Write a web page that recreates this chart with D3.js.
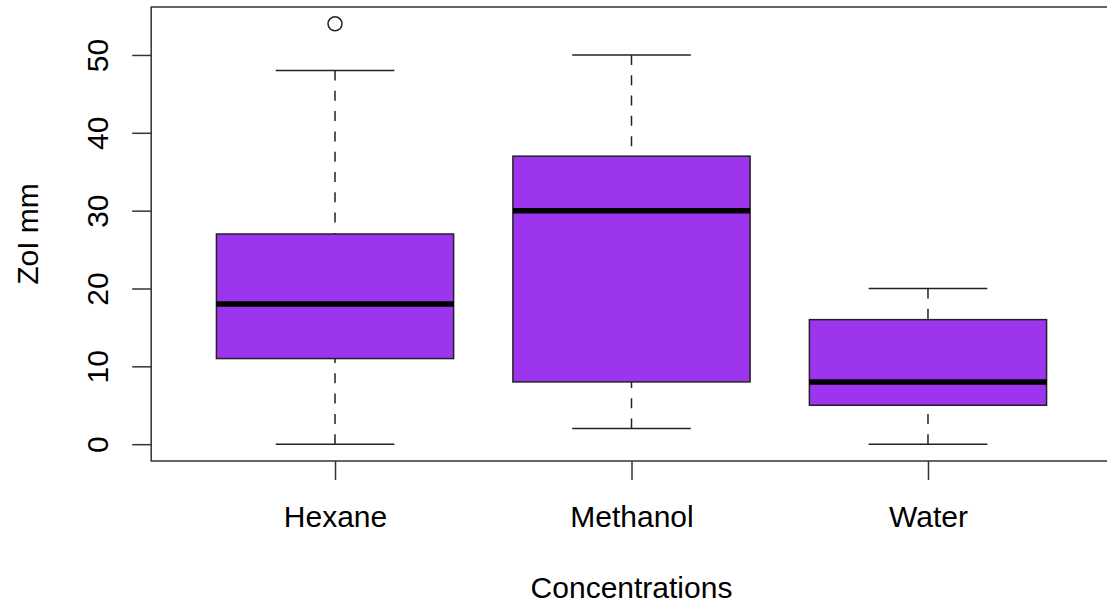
<!DOCTYPE html>
<html>
<head>
<meta charset="utf-8">
<script src="https://cdn.jsdelivr.net/npm/d3@7"></script>
<style>
  html, body { margin: 0; padding: 0; background: #fff; }
  svg { display: block; }
  text { font-family: "Liberation Sans", Arial, Helvetica, sans-serif; fill: #000; }
</style>
</head>
<body>
<svg id="chart" width="1107" height="608"></svg>
<script>
// ---- data ----
const categories = ["Hexane", "Methanol", "Water"];
const whiskerLow = [0, 2, 0];
const q1 = [11, 8, 5];
const median = [18, 30, 8];
const q3 = [27, 37, 16];
const whiskerHigh = [48, 50, 20];
const outliers = [[54], [], []];
const yTicks = [0, 10, 20, 30, 40, 50];
const xTitle = "Concentrations";
const yTitle = "ZoI mm";

// ---- layout ----
const W = 1107, H = 608;
const plotLeft = 151.2, plotRight = 1111.8, plotTop = 7, plotBottom = 461;
const fontSize = 30;
const fill = "#9D34EE";

const svg = d3.select("#chart");

const x = d3.scaleLinear().domain([0.38, 3.62]).range([plotLeft, plotRight]);
const y = d3.scaleLinear().domain([-2.16, 56.16]).range([plotBottom, plotTop]);

const boxHalf = 0.4, capHalf = 0.2;

const g = svg.append("g");

categories.forEach((c, i) => {
  const cx = x(i + 1);
  const bx0 = x(i + 1 - boxHalf), bx1 = x(i + 1 + boxHalf);
  const cx0 = x(i + 1 - capHalf), cx1 = x(i + 1 + capHalf);
  // whiskers (dashed), drawn from end toward box
  g.append("line").attr("x1", cx).attr("x2", cx)
    .attr("y1", y(whiskerHigh[i])).attr("y2", y(q3[i]))
    .attr("stroke", "#222").attr("stroke-width", 1.5).attr("stroke-dasharray", "10,10.3");
  g.append("line").attr("x1", cx).attr("x2", cx)
    .attr("y1", y(whiskerLow[i])).attr("y2", y(q1[i]))
    .attr("stroke", "#222").attr("stroke-width", 1.5).attr("stroke-dasharray", "10,10.3");
  // caps
  [whiskerHigh[i], whiskerLow[i]].forEach(v => {
    g.append("line").attr("x1", cx0).attr("x2", cx1)
      .attr("y1", y(v)).attr("y2", y(v))
      .attr("stroke", "#222").attr("stroke-width", 1.5);
  });
  // box
  g.append("rect").attr("x", bx0).attr("y", y(q3[i]))
    .attr("width", bx1 - bx0).attr("height", y(q1[i]) - y(q3[i]))
    .attr("fill", fill).attr("stroke", "#222").attr("stroke-width", 1.5);
  // median
  g.append("line").attr("x1", bx0).attr("x2", bx1)
    .attr("y1", y(median[i])).attr("y2", y(median[i]))
    .attr("stroke", "#000").attr("stroke-width", 5.5);
  // outliers
  outliers[i].forEach(v => {
    g.append("circle").attr("cx", cx).attr("cy", y(v)).attr("r", 7)
      .attr("fill", "none").attr("stroke", "#222").attr("stroke-width", 1.5);
  });
});

// frame
svg.append("rect").attr("x", plotLeft).attr("y", plotTop)
  .attr("width", plotRight - plotLeft).attr("height", plotBottom - plotTop)
  .attr("fill", "none").attr("stroke", "#333").attr("stroke-width", 1.5);

// y axis
const yAxis = svg.append("g").attr("transform", `translate(${plotLeft},0)`)
  .call(d3.axisLeft(y).tickValues(yTicks).tickSize(19).tickFormat(d3.format("d")));
yAxis.select(".domain").remove();
yAxis.selectAll(".tick line").attr("stroke", "#333").attr("stroke-width", 1.5);
yAxis.selectAll(".tick text")
  .attr("x", null).attr("dy", null)
  .attr("transform", `translate(${108 - plotLeft},0) rotate(-90)`)
  .attr("text-anchor", "middle")
  .style("font-size", fontSize + "px")
  .style("font-family", '"Liberation Sans", Arial, sans-serif')
  .attr("fill", "#000");

// x axis
const xAxis = svg.append("g").attr("transform", `translate(0,${plotBottom})`)
  .call(d3.axisBottom(x).tickValues([1, 2, 3]).tickSize(19).tickFormat(d => categories[d - 1]));
xAxis.select(".domain").remove();
xAxis.selectAll(".tick line").attr("stroke", "#333").attr("stroke-width", 1.5);
xAxis.selectAll(".tick text")
  .attr("y", 527 - plotBottom).attr("dy", null)
  .attr("text-anchor", "middle")
  .style("font-size", fontSize + "px")
  .style("font-family", '"Liberation Sans", Arial, sans-serif')
  .attr("fill", "#000");

// titles
svg.append("text").attr("x", x(2)).attr("y", 598)
  .attr("text-anchor", "middle").style("font-size", fontSize + "px").text(xTitle);
svg.append("text").attr("transform", `translate(38,${(plotTop + plotBottom) / 2}) rotate(-90)`)
  .attr("text-anchor", "middle").style("font-size", fontSize + "px").text(yTitle);
</script>
</body>
</html>
